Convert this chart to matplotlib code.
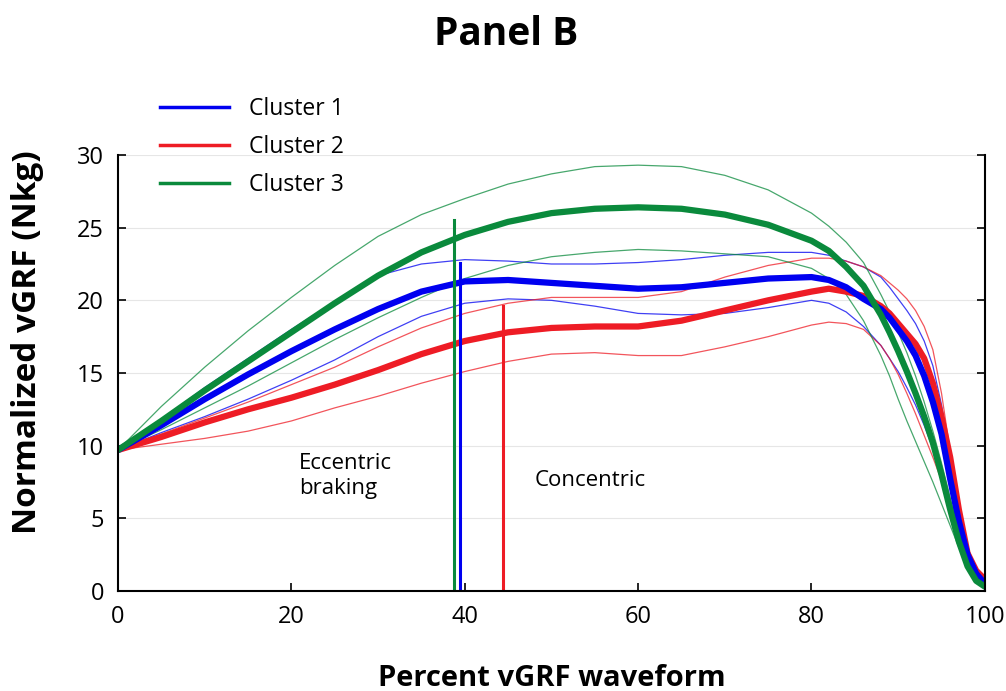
import numpy as np
import matplotlib
matplotlib.use("Agg")
import matplotlib.pyplot as plt

plt.rcParams['font.family'] = ['Open Sans', 'DejaVu Sans']

# percent of waveform where values were read
pct = [0, 5, 10, 15, 20, 25, 30, 35, 40, 45, 50, 55, 60, 65, 70, 75, 80,
       82, 84, 86, 88, 89, 90, 91, 92, 93, 94, 95, 96, 97, 98, 99, 100]

# cluster means (thick lines)
c1_mean = [9.7, 11.4, 13.2, 14.9, 16.5, 18.0, 19.4, 20.6, 21.3, 21.4, 21.2, 21.0, 20.8, 20.9, 21.2, 21.5, 21.6,
           21.4, 20.9, 20.1, 19.4, 18.8, 18.0, 17.2, 16.2, 14.8, 13.0, 10.8, 7.7, 4.8, 2.5, 1.2, 0.5]
c2_mean = [9.7, 10.6, 11.6, 12.5, 13.3, 14.2, 15.2, 16.3, 17.2, 17.8, 18.1, 18.2, 18.2, 18.6, 19.3, 20.0, 20.6,
           20.8, 20.6, 20.3, 19.6, 19.1, 18.4, 17.7, 17.0, 16.0, 14.3, 12.0, 9.2, 5.6, 2.6, 1.4, 0.8]
c3_mean = [9.7, 11.7, 13.8, 15.8, 17.8, 19.8, 21.7, 23.3, 24.5, 25.4, 26.0, 26.3, 26.4, 26.3, 25.9, 25.2, 24.1,
           23.4, 22.3, 21.0, 19.0, 17.8, 16.5, 15.1, 13.6, 12.0, 10.2, 8.0, 5.6, 3.4, 1.7, 0.7, 0.3]

# upper / lower bands (thin lines)
c1_hi = [9.7, 11.8, 14.0, 16.0, 18.0, 19.9, 21.7, 22.5, 22.8, 22.7, 22.5, 22.5, 22.6, 22.8, 23.1, 23.3, 23.3,
         23.1, 22.7, 22.3, 21.6, 20.9, 20.1, 19.3, 18.4, 17.2, 15.5, 12.8, 9.2, 5.9, 3.0, 1.4, 0.6]
c1_lo = [9.7, 10.9, 12.0, 13.2, 14.5, 15.9, 17.5, 18.9, 19.8, 20.1, 20.0, 19.6, 19.1, 19.0, 19.1, 19.5, 20.0,
         19.8, 19.2, 18.2, 16.9, 16.0, 15.1, 14.0, 12.8, 11.4, 9.8, 8.0, 6.2, 4.3, 2.5, 1.1, 0.4]
c2_hi = [9.7, 10.8, 11.9, 13.0, 14.2, 15.4, 16.8, 18.1, 19.1, 19.8, 20.2, 20.2, 20.2, 20.6, 21.6, 22.4, 22.9,
         22.9, 22.7, 22.3, 21.7, 21.2, 20.7, 20.1, 19.3, 18.2, 16.6, 13.6, 9.6, 5.9, 3.0, 1.5, 0.8]
c2_lo = [9.7, 10.1, 10.5, 11.0, 11.7, 12.6, 13.4, 14.3, 15.1, 15.8, 16.3, 16.4, 16.2, 16.2, 16.8, 17.5, 18.3,
         18.5, 18.4, 18.0, 16.9, 16.0, 14.9, 13.6, 12.2, 10.7, 9.2, 7.6, 5.9, 4.1, 2.4, 1.1, 0.5]
c3_hi = [9.7, 12.7, 15.4, 17.9, 20.2, 22.4, 24.4, 25.9, 27.0, 28.0, 28.7, 29.2, 29.3, 29.2, 28.6, 27.6, 26.0,
         25.1, 24.0, 22.6, 20.4, 19.2, 17.8, 16.4, 14.8, 13.0, 11.0, 8.8, 6.4, 4.2, 2.3, 1.0, 0.3]
c3_lo = [9.7, 11.1, 12.6, 14.1, 15.7, 17.3, 18.8, 20.2, 21.5, 22.4, 23.0, 23.3, 23.5, 23.4, 23.2, 23.0, 22.2,
         21.5, 20.4, 18.6, 16.2, 14.8, 13.2, 11.7, 10.3, 8.9, 7.5, 6.0, 4.5, 3.0, 1.7, 0.7, 0.2]

# end of eccentric braking phase: (x, top of marker line)
phase_x = [39.4, 44.4, 38.8]
phase_top = [22.6, 19.6, 25.5]

labels = ['Cluster 1', 'Cluster 2', 'Cluster 3']
colors = ['#0000f0', '#ee1c25', '#0a8a3c']

fig = plt.figure(figsize=(10.06, 6.91), dpi=100)
ax = fig.add_axes([0.1173, 0.1447, 0.8617, 0.631])

for lo, hi, c in zip([c1_lo, c2_lo, c3_lo], [c1_hi, c2_hi, c3_hi], colors):
    ax.plot(pct, hi, color=c, lw=0.9, alpha=0.75)
    ax.plot(pct, lo, color=c, lw=0.9, alpha=0.75)

for y, c in zip([c2_mean, c1_mean, c3_mean], [colors[1], colors[0], colors[2]]):
    ax.plot(pct, y, color=c, lw=4.5, solid_capstyle='round', solid_joinstyle='round')

for x, top, c in zip(phase_x, phase_top, colors):
    ax.plot([x, x], [0, top], color=c, lw=2.2)

ax.text(20.9, 9.5, 'Eccentric\nbraking', fontsize=16, va='top', ha='left', linespacing=1.25)
ax.text(48.1, 7.6, 'Concentric', fontsize=16, va='center', ha='left')

handles = [plt.Line2D([], [], color=c, lw=2.5, label=lab) for lab, c in zip(labels, colors)]
fig.legend(handles=handles, loc='upper left', bbox_to_anchor=(0.159, 0.859),
           frameon=False, fontsize=16.5, handlelength=3.0, handletextpad=0.9,
           labelspacing=0.6, borderpad=0, borderaxespad=0)

ax.set_xlim(0, 100)
ax.set_ylim(0, 30)
ax.set_xticks([0, 20, 40, 60, 80, 100])
ax.set_yticks([0, 5, 10, 15, 20, 25, 30])
ax.grid(axis='y', color='#e6e6e6', lw=0.8)
ax.set_axisbelow(True)
ax.spines['top'].set_visible(False)
for s in ['left', 'bottom', 'right']:
    ax.spines[s].set_linewidth(1.5)
ax.tick_params(direction='in', length=6, width=1.2, labelsize=17, right=True, pad=10)

ax.set_xlabel('Percent vGRF waveform', fontsize=21, fontweight='bold', labelpad=25)
ax.set_ylabel('Normalized vGRF (Nkg)', fontsize=24, fontweight='bold')
ax.yaxis.set_label_coords(-0.085, 0.571)
fig.text(0.503, 0.95, 'Panel B', fontsize=28, fontweight='bold', ha='center', va='center')

fig.savefig('out.png', dpi=100)
